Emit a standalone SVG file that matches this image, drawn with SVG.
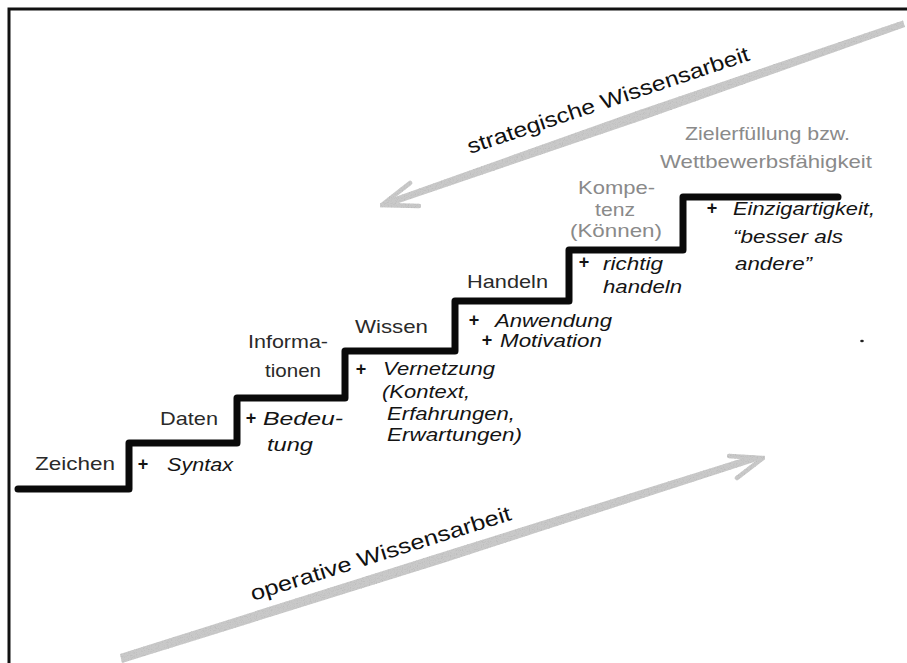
<svg xmlns="http://www.w3.org/2000/svg" width="907" height="663" viewBox="0 0 907 663">
  <style>
    .lbl { font-family: "Liberation Sans", Arial, sans-serif; font-size: 19px; fill: #2a2a2a; }
    .lbl-soft { font-family: "Liberation Sans", Arial, sans-serif; font-size: 19px; fill: #8a8a8a; }
    .add { font-family: "Liberation Sans", Arial, sans-serif; font-size: 19px; font-style: italic; fill: #141414; }
    .plus { font-family: "Liberation Sans", Arial, sans-serif; font-size: 18px; font-weight: bold; fill: #141414; text-anchor: middle; }
    .axis { font-family: "Liberation Sans", Arial, sans-serif; font-size: 21px; fill: #111; }
    .stair { fill: none; stroke: #0a0a0a; stroke-width: 7; stroke-linejoin: round; stroke-linecap: round; }
    .shaft { fill: #c9c9c9; filter: url(#grain); }
    .barb { fill: none; stroke: #c9c9c9; stroke-width: 4.5; stroke-linecap: round; filter: url(#grain); }
  </style>
  <defs>
    <!-- grainy, pencil-like texture for the two gray arrows -->
    <filter id="grain" x="-5%" y="-20%" width="110%" height="140%">
      <feGaussianBlur in="SourceGraphic" stdDeviation="0.6" result="soft"/>
      <feTurbulence type="fractalNoise" baseFrequency="0.85" numOctaves="2" seed="4" result="noise"/>
      <feColorMatrix in="noise" type="matrix" values="0 0 0 0 0.5  0 0 0 0 0.5  0 0 0 0 0.5  3 0 0 0 -1.45" result="specks"/>
      <feComposite in="specks" in2="soft" operator="in" result="inside"/>
      <feMerge>
        <feMergeNode in="soft"/>
        <feMergeNode in="inside"/>
      </feMerge>
    </filter>
  </defs>

  <rect width="907" height="663" fill="#fff"/>
  <!-- frame (top and left edges) -->
  <path d="M9,663 V9 H907" fill="none" stroke="#111" stroke-width="3"/>

  <!-- staircase -->
  <path class="stair" d="M18,489 H129 V443 H237 V398 H345 V351 H455 V301 H569 V250 H683 V197 H838"/>

  <g id="connectors">
    <!-- strategic knowledge work: top right down to the left -->
    <g id="arrow-strategic">
      <polygon class="shaft" points="903,20.5 905,27 644,119.5 393,205 382,205 391,198.5 641,109.5"/>
      <path class="barb" d="M410,183 L382,205 L419,206"/>
    </g>
    <!-- operative knowledge work: bottom left up to the right -->
    <g id="arrow-operative">
      <polygon class="shaft" points="120,654 122,663 443,563 754,462 763,458 753,455 440,553"/>
      <path class="barb" d="M729,456 L763,458 L737,478"/>
    </g>
  </g>

  <g id="axis-labels">
    <text class="axis" transform="translate(470,154) rotate(-18.5)" textLength="296" lengthAdjust="spacingAndGlyphs">strategische Wissensarbeit</text>
    <text class="axis" transform="translate(253,601) rotate(-17.4)" textLength="272" lengthAdjust="spacingAndGlyphs">operative Wissensarbeit</text>
  </g>

  <g id="step-zeichen">
    <text class="lbl" x="35" y="470" textLength="80" lengthAdjust="spacingAndGlyphs">Zeichen</text>
    <text class="plus" x="143" y="470">+</text>
    <text class="add" x="167" y="471" textLength="66" lengthAdjust="spacingAndGlyphs">Syntax</text>
  </g>

  <g id="step-daten">
    <text class="lbl" x="160" y="425" textLength="58" lengthAdjust="spacingAndGlyphs">Daten</text>
    <text class="plus" x="251" y="424">+</text>
    <text class="add" x="263" y="425" textLength="80" lengthAdjust="spacingAndGlyphs">Bedeu-</text>
    <text class="add" x="267" y="451" textLength="46" lengthAdjust="spacingAndGlyphs">tung</text>
  </g>

  <g id="step-informationen">
    <text class="lbl" x="248" y="348" textLength="80" lengthAdjust="spacingAndGlyphs">Informa-</text>
    <text class="lbl" x="265" y="377" textLength="56" lengthAdjust="spacingAndGlyphs">tionen</text>
    <text class="plus" x="361" y="375">+</text>
    <text class="add" x="383" y="375" textLength="112" lengthAdjust="spacingAndGlyphs">Vernetzung</text>
    <text class="add" x="382" y="398" textLength="88" lengthAdjust="spacingAndGlyphs">(Kontext,</text>
    <text class="add" x="387" y="420" textLength="128" lengthAdjust="spacingAndGlyphs">Erfahrungen,</text>
    <text class="add" x="387" y="441" textLength="135" lengthAdjust="spacingAndGlyphs">Erwartungen)</text>
  </g>

  <g id="step-wissen">
    <text class="lbl" x="355" y="333" textLength="73" lengthAdjust="spacingAndGlyphs">Wissen</text>
    <text class="plus" x="474" y="326">+</text>
    <text class="add" x="495" y="327" textLength="117" lengthAdjust="spacingAndGlyphs">Anwendung</text>
    <text class="plus" x="487" y="346">+</text>
    <text class="add" x="500" y="347" textLength="102" lengthAdjust="spacingAndGlyphs">Motivation</text>
  </g>

  <g id="step-handeln">
    <text class="lbl" x="467" y="288" textLength="81" lengthAdjust="spacingAndGlyphs">Handeln</text>
    <text class="plus" x="584" y="268">+</text>
    <text class="add" x="603" y="270" textLength="60" lengthAdjust="spacingAndGlyphs">richtig</text>
    <text class="add" x="603" y="293" textLength="79" lengthAdjust="spacingAndGlyphs">handeln</text>
  </g>

  <g id="step-kompetenz">
    <text class="lbl-soft" x="578" y="194" textLength="77" lengthAdjust="spacingAndGlyphs">Kompe-</text>
    <text class="lbl-soft" x="595" y="216" textLength="40" lengthAdjust="spacingAndGlyphs">tenz</text>
    <text class="lbl-soft" x="570" y="237" textLength="92" lengthAdjust="spacingAndGlyphs">(Können)</text>
    <text class="plus" x="712" y="214">+</text>
    <text class="add" x="733" y="215" textLength="142" lengthAdjust="spacingAndGlyphs">Einzigartigkeit,</text>
    <text class="add" x="733" y="243" textLength="110" lengthAdjust="spacingAndGlyphs">“besser als</text>
    <text class="add" x="735" y="270" textLength="77" lengthAdjust="spacingAndGlyphs">andere”</text>
  </g>

  <g id="step-zielerfuellung">
    <text class="lbl-soft" x="685" y="140" textLength="165" lengthAdjust="spacingAndGlyphs">Zielerfüllung bzw.</text>
    <text class="lbl-soft" x="660" y="168" textLength="212" lengthAdjust="spacingAndGlyphs">Wettbewerbsfähigkeit</text>
  </g>

  <!-- small speck to the right of the top step -->
  <ellipse cx="862" cy="341" rx="1.8" ry="1.2" fill="#222"/>
</svg>
